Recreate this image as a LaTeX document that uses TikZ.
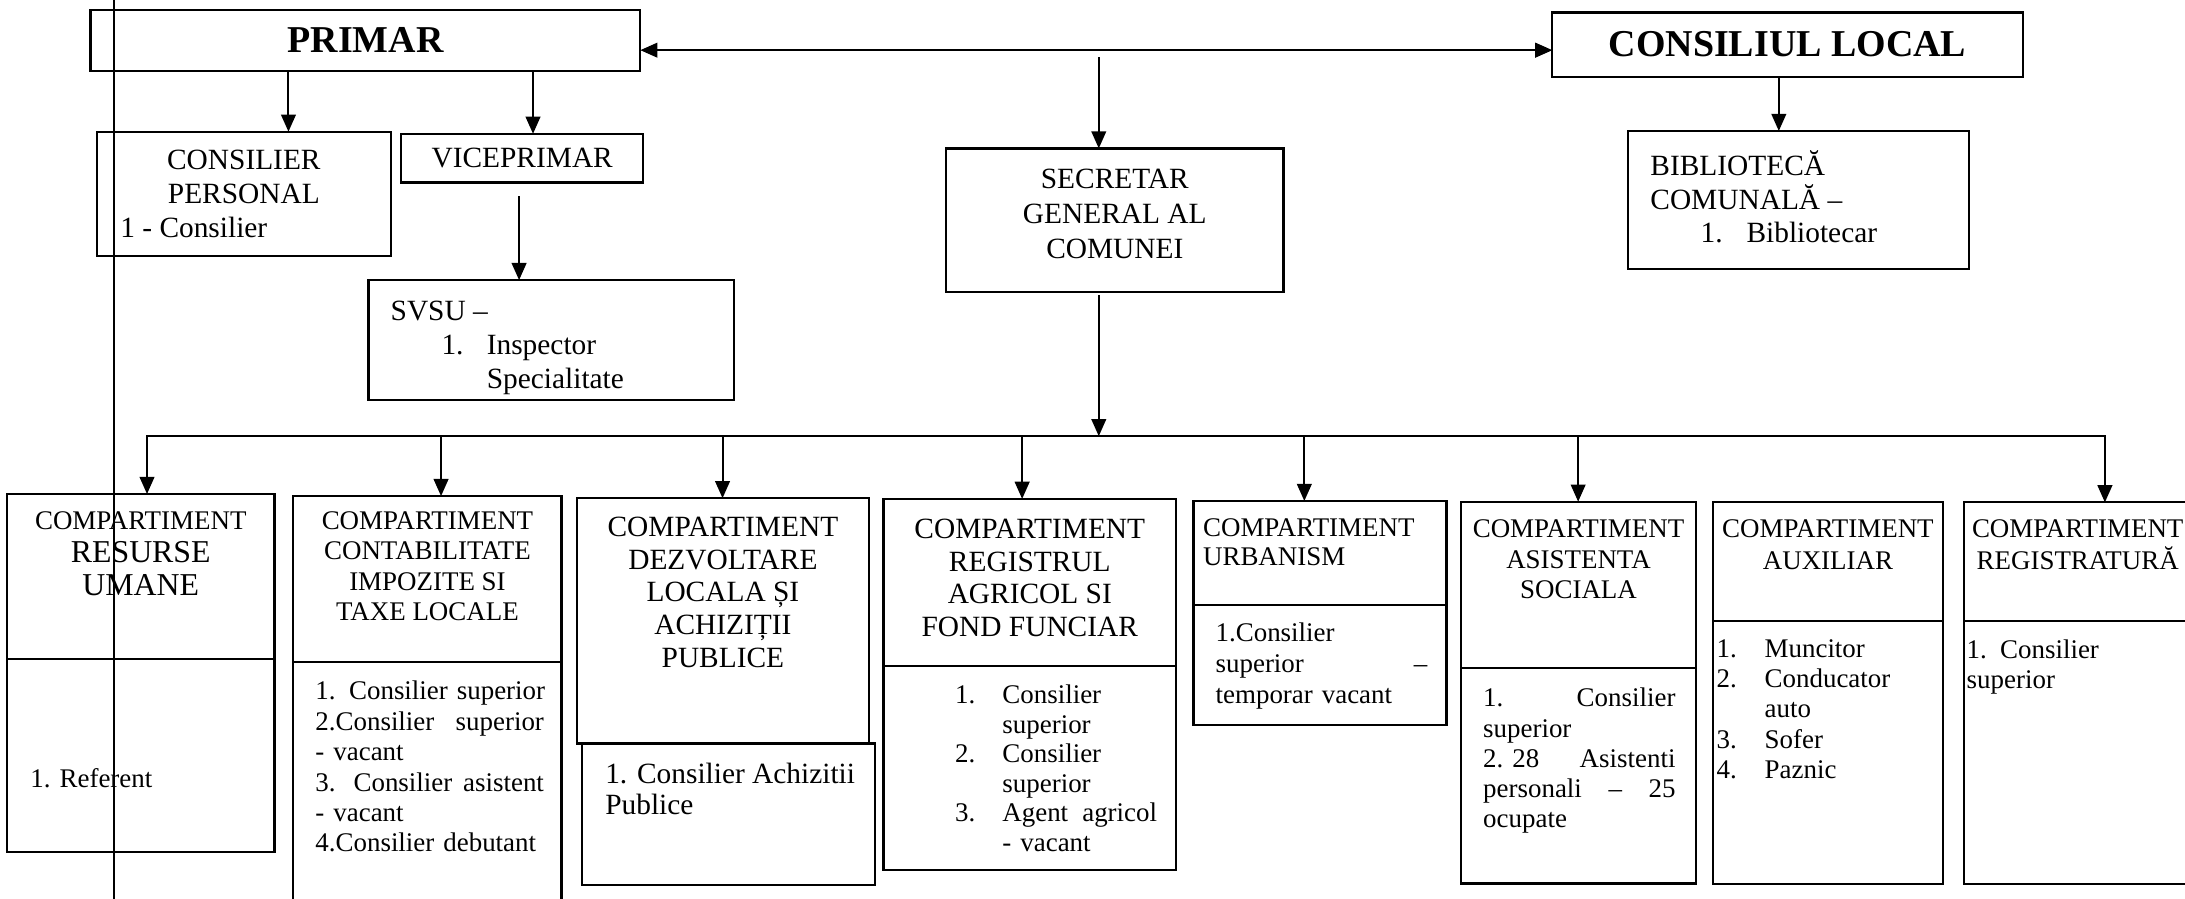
\documentclass[tikz,border=0pt]{standalone}
\usepackage{fontspec}
\setmainfont{Liberation Serif}
\usetikzlibrary{arrows.meta,positioning}
\setlength{\parindent}{0pt}
\newcommand{\numb}[2][0.68cm]{\makebox[#1][l]{#2}}

\tikzset{
    frame/.style={draw, line width=0.9pt, inner sep=0pt, outer sep=0pt, anchor=north west},
    title/.style={align=center, inner sep=0pt, font=\fontsize{11}{12.5}\selectfont},
    list/.style={align=left, inner sep=0pt, font=\fontsize{11}{12.4}\selectfont},
    arr/.style={-{Triangle[length=7pt,width=6pt]}, line width=0.8pt},
    arrs/.style={{Triangle[length=7pt,width=6pt]}-{Triangle[length=7pt,width=6pt]}, line width=0.8pt},
}

\begin{document}
\begin{tikzpicture}
    \useasboundingbox (0,0) rectangle (31.36,-12.9);
    \fill[white] (0,0) rectangle (31.36,-12.9);

    % Draw the top boxes
    \node[frame, minimum width=7.89cm, minimum height=0.88cm, font=\bfseries\fontsize{15.5}{18}\selectfont] (pr) at (1.30,-0.14) {PRIMAR};
    \node[frame, minimum width=6.75cm, minimum height=0.92cm, font=\bfseries\fontsize{15.5}{18}\selectfont] (cl) at (22.28,-0.18) {CONSILIUL LOCAL};

    \node[frame, minimum width=4.22cm, minimum height=1.78cm] (cp) at (1.39,-1.89) {};
    \node[title, font=\fontsize{12}{13.6}\selectfont, below=0.26cm of cp.north] (cpT) {CONSILIER\\PERSONAL};
    \node[list, font=\fontsize{12}{13.6}\selectfont, below right=1.22cm and 0.33cm of cp.north west] (cpL) {1 - Consilier};

    \node[frame, minimum width=3.47cm, minimum height=0.70cm, font=\fontsize{12}{13.6}\selectfont] (vp) at (5.76,-1.92) {VICEPRIMAR};

    \node[frame, minimum width=5.25cm, minimum height=1.72cm] (sv) at (5.29,-4.02) {};
    \node[list, font=\fontsize{12}{13.9}\selectfont, below right=0.29cm and 0.31cm of sv.north west] (svL) {SVSU –\\\hspace*{0.73cm}\numb[0.65cm]{1.}Inspector\\\hspace*{1.38cm}Specialitate};

    \node[frame, minimum width=4.84cm, minimum height=2.06cm] (sg) at (13.58,-2.13) {};
    \node[title, font=\fontsize{12}{14.2}\selectfont, below=0.29cm of sg.north] (sgT) {SECRETAR\\GENERAL AL\\COMUNEI};

    \node[frame, minimum width=4.90cm, minimum height=1.98cm] (bb) at (23.36,-1.88) {};
    \node[list, font=\fontsize{12}{13.6}\selectfont, below right=0.28cm and 0.32cm of bb.north west] (bbL) {BIBLIOTECĂ\\COMUNALĂ –\\\hspace*{0.72cm}\numb[0.66cm]{1.}Bibliotecar};

    % Draw the compartments
    \node[frame, minimum width=3.84cm, minimum height=2.37cm] (ruH) at (0.10,-7.09) {};
    \node[frame, minimum width=3.84cm, minimum height=2.77cm, below=0pt of ruH] (ruB) {};
    \node[title, font=\fontsize{13}{13.6}\selectfont, below=0.24cm of ruH.north] (ruT) {{\fontsize{11}{12}\selectfont COMPARTIMENT}\\RESURSE\\UMANE};
    \node[list, below right=1.57cm and 0.33cm of ruB.north west] (ruL) {1. Referent};

    \node[frame, minimum width=3.85cm, minimum height=2.38cm] (ctH) at (4.21,-7.12) {};
    \node[frame, minimum width=3.85cm, minimum height=3.70cm, below=0pt of ctH] (ctB) {};
    \node[title, below=0.21cm of ctH.north] (ctT) {COMPARTIMENT\\CONTABILITATE\\IMPOZITE SI\\TAXE LOCALE};
    \node[list, text width=3.28cm, below right=0.27cm and 0.31cm of ctB.north west] (ctL) {\mbox{1. Consilier superior}\\2.Consilier\hfill superior\\- vacant\\3.\ \ Consilier\hfill asistent\\- vacant\\4.Consilier debutant};

    \node[frame, minimum width=4.19cm, minimum height=3.52cm] (dlH) at (8.28,-7.15) {};
    \node[frame, minimum width=4.21cm, minimum height=2.03cm, below right=0pt and 0.07cm of dlH.south west] (dlB) {};
    \node[title, font=\fontsize{12}{13.4}\selectfont, below=0.26cm of dlH.north] (dlT) {COMPARTIMENT\\DEZVOLTARE\\LOCALA ȘI\\ACHIZIȚII\\PUBLICE};
    \node[list, font=\fontsize{12}{12.9}\selectfont, below right=0.27cm and 0.33cm of dlB.north west] (dlL) {1. Consilier Achizitii\\Publice};

    \node[frame, minimum width=4.20cm, minimum height=2.40cm] (raH) at (12.68,-7.16) {};
    \node[frame, minimum width=4.20cm, minimum height=2.93cm, below=0pt of raH] (raB) {};
    \node[title, font=\fontsize{12}{13.4}\selectfont, below=0.28cm of raH.north] (raT) {COMPARTIMENT\\REGISTRUL\\AGRICOL SI\\FOND FUNCIAR};
    \node[list, font=\fontsize{11}{12.1}\selectfont, text width=2.90cm, below right=0.26cm and 1.02cm of raB.north west] (raL) {\numb{1.}Consilier\\\numb{}superior\\\numb{2.}Consilier\\\numb{}superior\\\numb{3.}Agent\hfill agricol\\\numb{}- vacant};

    \node[frame, minimum width=3.63cm, minimum height=1.49cm] (urH) at (17.13,-7.19) {};
    \node[frame, minimum width=3.63cm, minimum height=1.72cm, below=0pt of urH] (urB) {};
    \node[list, font=\fontsize{11}{12.2}\selectfont, below right=0.24cm and 0.13cm of urH.north west] (urT) {COMPARTIMENT\\URBANISM};
    \node[list, font=\fontsize{11}{12.6}\selectfont, text width=3.04cm, below right=0.25cm and 0.31cm of urB.north west] (urL) {1.Consilier\\superior\hfill –\\temporar vacant};

    \node[frame, minimum width=3.37cm, minimum height=2.39cm] (asH) at (20.97,-7.20) {};
    \node[frame, minimum width=3.37cm, minimum height=3.09cm, below=0pt of asH] (asB) {};
    \node[title, below=0.25cm of asH.north] (asT) {COMPARTIMENT\\ASISTENTA\\SOCIALA};
    \node[list, font=\fontsize{11}{12.3}\selectfont, text width=2.76cm, below right=0.28cm and 0.31cm of asB.north west] (asL) {1.\hfill Consilier\\superior\\2.\ 28\hfill Asistenti\\personali\hfill –\hfill 25\\ocupate};

    \node[frame, minimum width=3.31cm, minimum height=1.70cm] (axH) at (24.58,-7.21) {};
    \node[frame, minimum width=3.31cm, minimum height=3.78cm, below=0pt of axH] (axB) {};
    \node[title, font=\fontsize{11}{13}\selectfont, below=0.24cm of axH.north] (axT) {COMPARTIMENT\\AUXILIAR};
    \node[list, below right=0.26cm and 0.05cm of axB.north west] (axL) {\numb[0.69cm]{1.}Muncitor\\\numb[0.69cm]{2.}Conducator\\\numb[0.69cm]{}auto\\\numb[0.69cm]{3.}Sofer\\\numb[0.69cm]{4.}Paznic};

    \node[frame, minimum width=3.26cm, minimum height=1.70cm] (rgH) at (28.19,-7.21) {};
    \node[frame, minimum width=3.26cm, minimum height=3.78cm, below=0pt of rgH] (rgB) {};
    \node[title, font=\fontsize{11}{13}\selectfont, below=0.24cm of rgH.north] (rgT) {COMPARTIMENT\\REGISTRATURĂ};
    \node[list, below right=0.26cm and 0.03cm of rgB.north west] (rgL) {\numb[0.48cm]{1.}Consilier\\superior};

    % Draw the arrows
    \coordinate (mid) at (15.77,-0.72);
    \coordinate (xcp) at (4.14,0);
    \coordinate (xvp) at (7.65,0);
    \coordinate (xbb) at (25.53,0);
    \coordinate (vpout) at (7.45,-2.82);
    \draw[arrs] (pr.east |- mid) -- (cl.west |- mid);
    \draw[arr] (pr.south -| xcp) -- (cp.north -| xcp);
    \draw[arr] (pr.south -| xvp) -- (vp.north -| xvp);
    \draw[arr] (vpout) -- (sv.north -| vpout);
    \draw[arr] ([yshift=-0.1cm]mid) -- (sg.north -| mid);
    \draw[arr] (cl.south -| xbb) -- (bb.north -| xbb);

    % Draw the bus to the compartments
    \coordinate (d1) at (2.11,-6.26);
    \coordinate (d2) at (6.33,-6.26);
    \coordinate (d3) at (10.37,-6.26);
    \coordinate (d4) at (14.67,-6.26);
    \coordinate (d5) at (18.72,-6.26);
    \coordinate (d6) at (22.65,-6.26);
    \coordinate (d7) at (30.21,-6.26);
    \draw[arr] ([yshift=-0.05cm]sg.south -| mid) -- (mid |- d1);
    \draw[arrs] (ruH.north -| d1) -- (d1) -- (d7) -- (rgH.north -| d7);
    \foreach \d/\n in {d2/ctH, d3/dlH, d4/raH, d5/urH, d6/asH}
        \draw[arr] (\d) -- (\d |- \n.north);

    % Vertical line across the page
    \draw[line width=0.8pt] (1.64,0) -- (1.64,-12.9);
\end{tikzpicture}
\end{document}
